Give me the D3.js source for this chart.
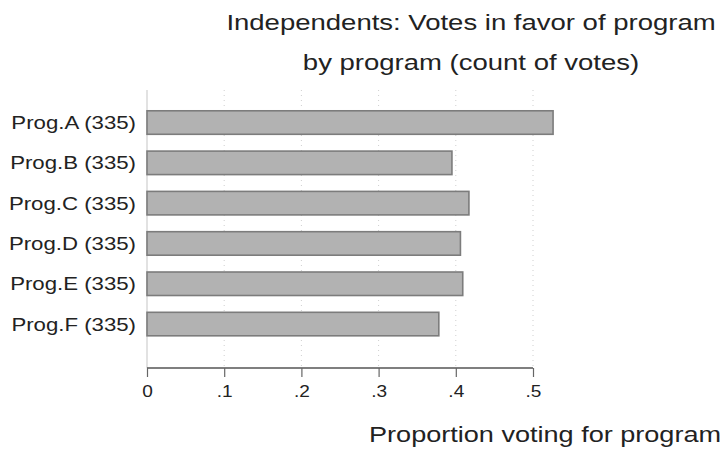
<!DOCTYPE html>
<html>
<head>
<meta charset="utf-8">
<script src="https://cdn.jsdelivr.net/npm/d3@7"></script>
<style>
  html, body { margin: 0; padding: 0; background: #fff; }
  svg { display: block; }
  text { font-family: "Liberation Sans", Arial, sans-serif; fill: #222; }
</style>
</head>
<body>
<svg id="chart" width="725" height="452"></svg>
<script>
// Programs and the share of independents voting for each
const programs = ["Prog.A", "Prog.B", "Prog.C", "Prog.D", "Prog.E", "Prog.F"];
const voteCounts = [335, 335, 335, 335, 335, 335];
const proportions = [0.526, 0.395, 0.417, 0.406, 0.409, 0.378];
const xTicks = [0, 0.1, 0.2, 0.3, 0.4, 0.5];
const xTickLabels = ["0", ".1", ".2", ".3", ".4", ".5"];
const titleLines = ["Independents: Votes in favor of program", "by program (count of votes)"];
const xTitle = "Proportion voting for program";

const rows = programs.map((p, i) => ({
  label: `${p} (${voteCounts[i]})`,
  value: proportions[i]
}));

const svg = d3.select("#chart");
const plotLeft = 147, plotTop = 90, axisY = 368;

// Widen text horizontally by a fixed factor (the chart's lettering is broad)
function widen(sel, factor) {
  sel.each(function () {
    const w = this.getComputedTextLength();
    d3.select(this).attr("textLength", w * factor).attr("lengthAdjust", "spacingAndGlyphs");
  });
}

const x = d3.scaleLinear().domain([0, 0.5]).range([147, 533]);
const y = d3.scaleBand()
  .domain(rows.map(d => d.label))
  .range([90, 356.6])
  .paddingInner(0.417)
  .paddingOuter(0.516);

// Vertical grid lines: solid faint at zero, dotted elsewhere
svg.append("g")
  .selectAll("line")
  .data(xTicks)
  .join("line")
  .attr("x1", d => x(d)).attr("x2", d => x(d))
  .attr("y1", plotTop).attr("y2", axisY)
  .attr("stroke", d => d === 0 ? "#e2e2e2" : "#cfcfcf")
  .attr("stroke-width", d => d === 0 ? 2 : 1)
  .attr("stroke-dasharray", d => d === 0 ? null : "1,4");

// Bars
svg.append("g")
  .selectAll("rect")
  .data(rows)
  .join("rect")
  .attr("x", x(0))
  .attr("y", d => y(d.label))
  .attr("width", d => x(d.value) - x(0))
  .attr("height", y.bandwidth())
  .attr("fill", "#b2b2b2")
  .attr("stroke", "#7c7c7c")
  .attr("stroke-width", 1.6);

// Category labels
const yAxis = d3.axisLeft(y).tickSize(0).tickPadding(11);
const gy = svg.append("g").attr("transform", `translate(${plotLeft},0)`).call(yAxis);
gy.select(".domain").remove();
gy.selectAll("text")
  .style("font-family", '"Liberation Sans", Arial, sans-serif')
  .style("font-size", "18.5px")
  .attr("fill", "#222")
  .attr("dy", "0.35em");
widen(gy.selectAll("text"), 1.2);

// Bottom axis
const xAxis = d3.axisBottom(x)
  .tickValues(xTicks)
  .tickFormat((d, i) => xTickLabels[i])
  .tickSize(9)
  .tickPadding(8);
const gx = svg.append("g").attr("transform", `translate(0,${axisY})`).call(xAxis);
gx.select(".domain").attr("stroke", "#555").attr("stroke-width", 1.6).attr("d", `M${x(0)},0H${x(0.5)}`);
gx.selectAll(".tick line").attr("stroke", "#666").attr("stroke-width", 1.2);
gx.selectAll(".tick text")
  .style("font-family", '"Liberation Sans", Arial, sans-serif')
  .style("font-size", "17px")
  .attr("fill", "#222");
widen(gx.selectAll(".tick text"), 1.12);

// Axis title
const xt = svg.append("text")
  .attr("x", 721).attr("y", 442)
  .attr("text-anchor", "end")
  .style("font-size", "22px")
  .text(xTitle);
widen(xt, 1.23);

// Chart title
const tt = svg.append("g").selectAll("text")
  .data(titleLines)
  .join("text")
  .attr("x", 471)
  .attr("y", (d, i) => 30 + i * 40)
  .attr("text-anchor", "middle")
  .style("font-size", "22px")
  .text(d => d);
widen(tt, 1.25);
</script>
</body>
</html>
